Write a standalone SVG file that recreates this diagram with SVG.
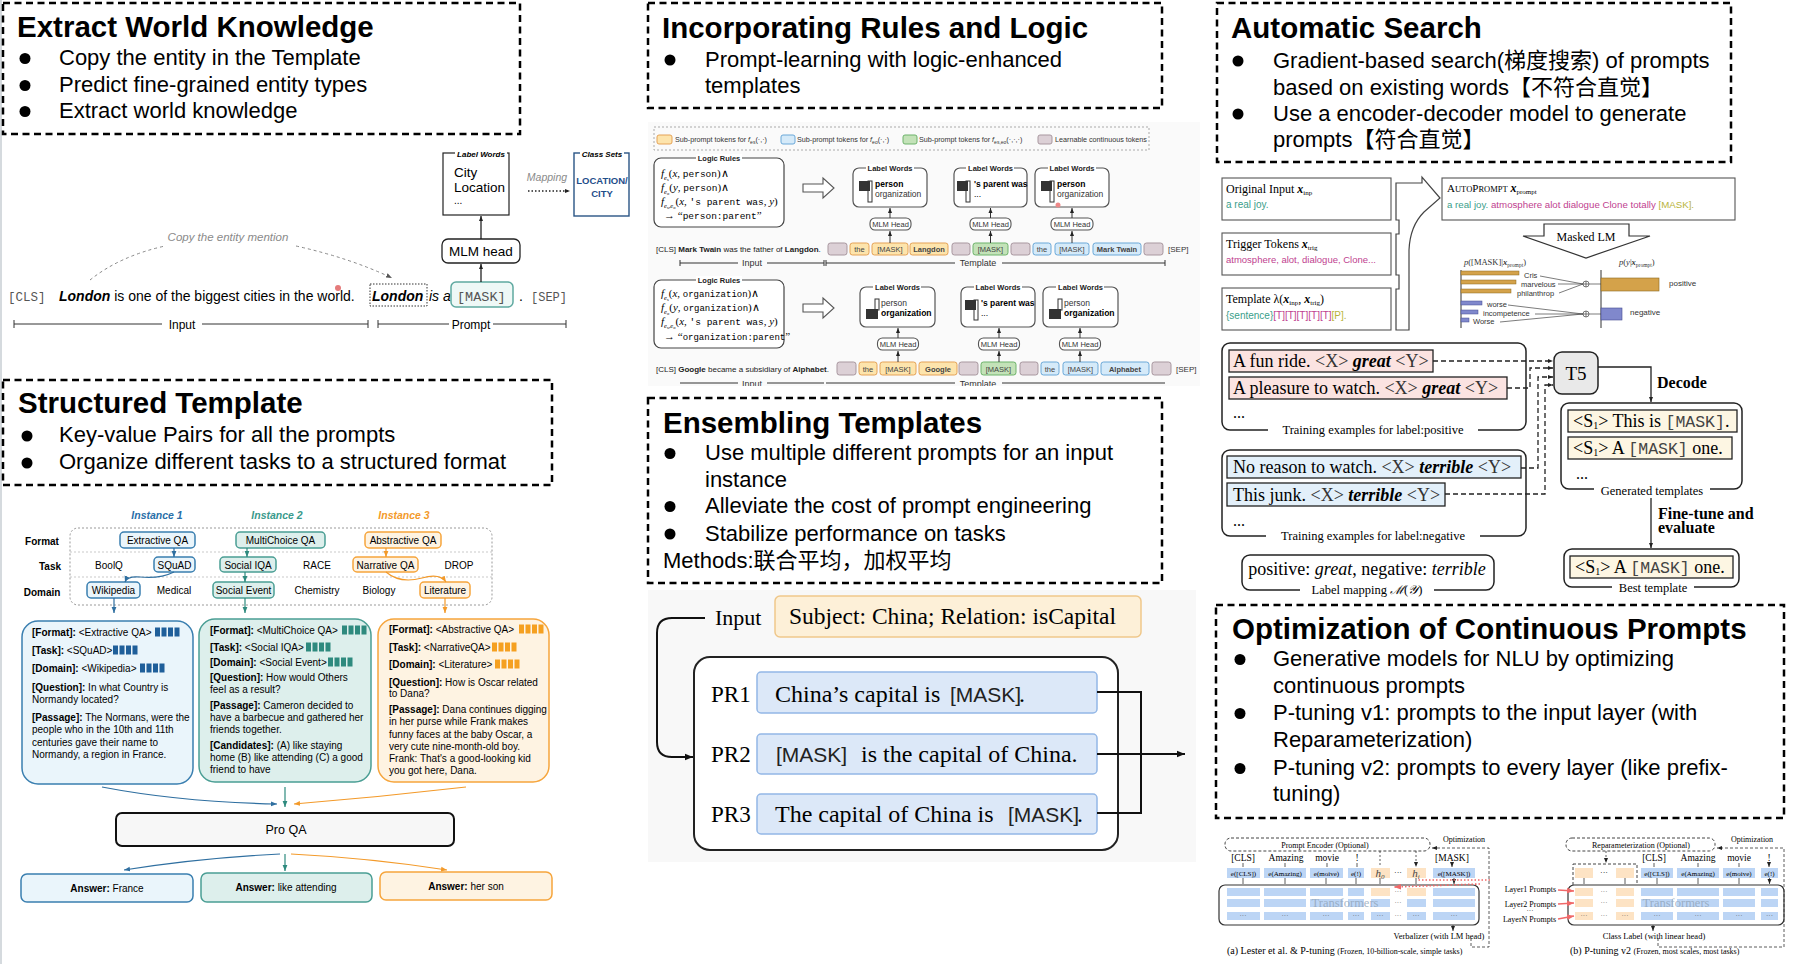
<svg xmlns="http://www.w3.org/2000/svg" width="1798" height="964" viewBox="0 0 1798 964">
<defs>
<style>
text{font-family:"Liberation Sans",Arial,sans-serif}
.sf,.sf text{font-family:"Liberation Serif","Times New Roman",serif}
.cjk{font-family:"Liberation Sans","Noto Sans CJK SC",sans-serif}
.mono{font-family:"Liberation Mono","Courier New",monospace}
.sans{font-family:"Liberation Sans",Arial,sans-serif}
.dbox{fill:none;stroke:#000;stroke-width:2.5;stroke-dasharray:7 4.5}
.title{font-size:29.5px;font-weight:bold}
.bul{font-size:22px}
.b{font-weight:bold}
.i{font-style:italic}
.c{text-anchor:middle}
.r{text-anchor:end}
.ln{fill:none;stroke:#111;stroke-width:1.2}
.tg{fill:#dcd0d6;stroke:#a8979f;stroke-width:1}
.to{fill:#fde4ac;stroke:#e5a256;stroke-width:1}
.tgr{fill:#c3e2b8;stroke:#6db36a;stroke-width:1}
.tb{fill:#d5eaf9;stroke:#6aa8d8;stroke-width:1}
.tk{font-size:7.5px;text-anchor:middle;fill:#444}
.lw{fill:#fff;stroke:#555;stroke-width:1.2}
.lwt{font-size:7.5px;font-weight:bold;text-anchor:middle;fill:#222}
.mh{fill:#fff;stroke:#555;stroke-width:1.1}
.mht{font-size:7.5px;text-anchor:middle;fill:#333}
.ap{fill:#fff;stroke:#555;stroke-width:1.1}
.frm{fill:#fff;stroke:#222;stroke-width:1.5}
.flab{font-size:12.5px;text-anchor:middle}
.bbx{fill:#eaf5fb;stroke:#3a7fb0;stroke-width:1.5}
.tbx{fill:#ddefec;stroke:#4a9e94;stroke-width:1.5}
.obx{fill:#fef3e2;stroke:#f6a53c;stroke-width:1.5}
.st{font-size:10px}
.emb{fill:#bcd5f5}
.emo{fill:#fde3c4}
.et{font-size:7px;text-anchor:middle}
</style>
<marker id="ah" viewBox="0 0 10 10" refX="10" refY="5" markerWidth="8" markerHeight="8" markerUnits="userSpaceOnUse" orient="auto"><path d="M0,1 L10,5 L0,9 z" fill="#111"/></marker>
<marker id="ahs" viewBox="0 0 10 10" refX="10" refY="5" markerWidth="5" markerHeight="5" markerUnits="userSpaceOnUse" orient="auto"><path d="M0,1 L10,5 L0,9 z" fill="#222"/></marker>
<marker id="ahg" viewBox="0 0 10 10" refX="10" refY="5" markerWidth="6" markerHeight="6" markerUnits="userSpaceOnUse" orient="auto"><path d="M0,1 L10,5 L0,9 z" fill="#555"/></marker>
<marker id="ahb" viewBox="0 0 10 10" refX="10" refY="5" markerWidth="6" markerHeight="6" markerUnits="userSpaceOnUse" orient="auto"><path d="M0,1 L10,5 L0,9 z" fill="#2f6fa0"/></marker>
<marker id="aht" viewBox="0 0 10 10" refX="10" refY="5" markerWidth="6" markerHeight="6" markerUnits="userSpaceOnUse" orient="auto"><path d="M0,1 L10,5 L0,9 z" fill="#2e8a7e"/></marker>
<marker id="aho" viewBox="0 0 10 10" refX="10" refY="5" markerWidth="6" markerHeight="6" markerUnits="userSpaceOnUse" orient="auto"><path d="M0,1 L10,5 L0,9 z" fill="#f39a2a"/></marker>
<marker id="ahr" viewBox="0 0 10 10" refX="10" refY="5" markerWidth="7" markerHeight="7" markerUnits="userSpaceOnUse" orient="auto"><path d="M0,1 L10,5 L0,9 z" fill="#f06868"/></marker>
<clipPath id="clipLogic"><rect x="640" y="118" width="570" height="268"/></clipPath>
</defs>
<rect x="0" y="0" width="1798" height="964" fill="#fff"/>
<rect x="0" y="0" width="2" height="964" fill="#d5dade"/>

<!-- ============ TEXT PANELS ============ -->
<g id="panel-extract">
<rect x="3" y="3" width="517" height="131" class="dbox"/>
<text x="17" y="37" class="title">Extract World Knowledge</text>
<circle cx="25" cy="58.5" r="5.5"/><text x="59" y="65" class="bul">Copy the entity in the Template</text>
<circle cx="25" cy="85.5" r="5.5"/><text x="59" y="92" class="bul">Predict fine-grained entity types</text>
<circle cx="25" cy="111.5" r="5.5"/><text x="59" y="118" class="bul">Extract world knowledge</text>
</g>

<g id="panel-rules">
<rect x="648" y="3" width="514" height="105" class="dbox"/>
<text x="662" y="38" class="title">Incorporating Rules and Logic</text>
<circle cx="670" cy="60" r="5.5"/><text x="705" y="67" class="bul">Prompt-learning with logic-enhanced</text>
<text x="705" y="93" class="bul">templates</text>
</g>

<g id="panel-autosearch">
<rect x="1217" y="3" width="514" height="159" class="dbox"/>
<text x="1231" y="38" class="title">Automatic Search</text>
<circle cx="1238" cy="61" r="5.5"/><text x="1273" y="68" class="bul cjk">Gradient-based search(梯度搜索) of prompts</text>
<text x="1273" y="95" class="bul cjk">based on existing words【不符合直觉】</text>
<circle cx="1238" cy="114" r="5.5"/><text x="1273" y="121" class="bul cjk">Use a encoder-decoder model to generate</text>
<text x="1273" y="147" class="bul cjk">prompts【符合直觉】</text>
</g>

<g id="panel-structured">
<rect x="3" y="380" width="549" height="105" class="dbox"/>
<text x="18" y="413" class="title">Structured Template</text>
<circle cx="27" cy="436" r="5.5"/><text x="59" y="442" class="bul">Key-value Pairs for all the prompts</text>
<circle cx="27" cy="463" r="5.5"/><text x="59" y="469" class="bul">Organize different tasks to a structured format</text>
</g>

<g id="panel-ensembling">
<rect x="648" y="398" width="514" height="185" class="dbox"/>
<text x="663" y="433" class="title">Ensembling Templates</text>
<circle cx="670" cy="453.5" r="5.5"/><text x="705" y="460" class="bul">Use multiple different prompts for an input</text>
<text x="705" y="487" class="bul">instance</text>
<circle cx="670" cy="506.5" r="5.5"/><text x="705" y="513" class="bul">Alleviate the cost of prompt engineering</text>
<circle cx="670" cy="534" r="5.5"/><text x="705" y="541" class="bul">Stabilize performance on tasks</text>
<text x="663" y="568" class="bul cjk">Methods:联合平均，加权平均</text>
</g>

<g id="panel-continuous">
<rect x="1216" y="605" width="568" height="213" class="dbox"/>
<text x="1232" y="639" class="title">Optimization of Continuous Prompts</text>
<circle cx="1240" cy="659.5" r="5.5"/><text x="1273" y="666" class="bul">Generative models for NLU by optimizing</text>
<text x="1273" y="693" class="bul">continuous prompts</text>
<circle cx="1240" cy="713.5" r="5.5"/><text x="1273" y="720" class="bul">P-tuning v1: prompts to the input layer (with</text>
<text x="1273" y="747" class="bul">Reparameterization)</text>
<circle cx="1240" cy="768.5" r="5.5"/><text x="1273" y="775" class="bul">P-tuning v2: prompts to every layer (like prefix-</text>
<text x="1273" y="801" class="bul">tuning)</text>
</g>

<!-- ============ FIGURE 1: world knowledge ============ -->
<g id="fig-world-knowledge">
<g id="node-label-words">
<rect x="443" y="153" width="66" height="62" fill="#fff" stroke="#222" stroke-width="1.2"/>
<rect x="455" y="149" width="52" height="9" fill="#fff"/>
<text x="481" y="156.5" class="c b i" font-size="8">Label Words</text>
<text x="454" y="177" font-size="13.5">City</text>
<text x="454" y="192" font-size="13.5">Location</text>
<text x="454" y="204" font-size="10">...</text>
</g>
<g id="node-class-sets">
<rect x="574" y="153" width="55" height="63" fill="#fff" stroke="#2a5585" stroke-width="1.4"/>
<rect x="580" y="149" width="44" height="9" fill="#fff"/>
<text x="602" y="156.5" class="c b i" font-size="8">Class Sets</text>
<text x="602" y="184" class="c b" font-size="9.5" fill="#1f4e8a">LOCATION/</text>
<text x="602" y="197" class="c b" font-size="9.5" fill="#1f4e8a">CITY</text>
</g>
<text x="547" y="181" class="c i" font-size="10.5" fill="#8a8a8a">Mapping</text>
<g id="node-mlm-head">
<rect x="442" y="239" width="78" height="24" rx="6" fill="#fff" stroke="#222" stroke-width="1.3"/>
<text x="481" y="256" class="c" font-size="13.5">MLM head</text>
</g>
<g id="node-sentence">
<text x="8" y="301" class="mono" font-size="12.5" fill="#555">[CLS]</text>
<text x="59" y="301" font-size="14"><tspan class="b i">London</tspan> is one of the biggest cities in the world.</text>
<circle cx="338" cy="288" r="3" fill="#e57b7b"/>
<rect x="370" y="284" width="57" height="22" fill="none" stroke="#333" stroke-width="1" stroke-dasharray="1.5 1.5"/>
<text x="372" y="301" font-size="14" class="b i">London</text>
<text x="429" y="301" font-size="14" class="i">is a</text>
<rect x="451" y="282" width="62" height="25" rx="5" fill="#eef8f6" stroke="#5fa9a0" stroke-width="1.5"/>
<text x="457" y="301" class="mono" font-size="13.5" fill="#555">[MASK]</text>
<text x="519" y="301" font-size="14">.</text>
<text x="531" y="301" class="mono" font-size="12" fill="#555">[SEP]</text>
</g>
<text x="228" y="241" class="c i" font-size="11.5" fill="#8a8a8a">Copy the entity mention</text>
<g id="connectors-world">
<line x1="481" y1="239" x2="481" y2="216" class="ln" marker-end="url(#ahs)"/>
<line x1="481" y1="282" x2="481" y2="264" class="ln" marker-end="url(#ahs)"/>
<line x1="528" y1="191" x2="570" y2="191" stroke="#222" stroke-width="1.3" stroke-dasharray="1.5 2" marker-end="url(#ahs)"/>
<path d="M90,280 Q120,256 165,246" fill="none" stroke="#888" stroke-width="1" stroke-dasharray="3 3"/>
<path d="M296,246 Q350,258 392,278" fill="none" stroke="#888" stroke-width="1" stroke-dasharray="3 3" marker-end="url(#ahg)"/>
<path d="M14,324 L162,324 M202,324 L368,324 M14,320 L14,328 M368,320 L368,328 M378,324 L449,324 M493,324 L566,324 M378,320 L378,328 M566,320 L566,328" stroke="#333" stroke-width="1"/>
</g>
<text x="182" y="328.5" class="c" font-size="12">Input</text>
<text x="471" y="328.5" class="c" font-size="12">Prompt</text>
</g>

<!-- ============ FIGURE 2: logic rules ============ -->
<g id="fig-logic" clip-path="url(#clipLogic)">
<rect x="648" y="122" width="552" height="266" fill="#fafafa"/>
<g id="node-legend">
<rect x="654" y="127" width="495" height="23" fill="none" stroke="#aaa" stroke-width="1" stroke-dasharray="2 2"/>
<rect x="657" y="135" width="15" height="9" rx="2" class="to"/>
<text x="675" y="142" font-size="7.2" fill="#333">Sub-prompt tokens for <tspan class="i">f</tspan><tspan font-size="5" dy="2">es</tspan><tspan dy="-2">(·,·)</tspan></text>
<rect x="781" y="135" width="14" height="9" rx="2" class="tb"/>
<text x="797" y="142" font-size="7.2" fill="#333">Sub-prompt tokens for <tspan class="i">f</tspan><tspan font-size="5" dy="2">eo</tspan><tspan dy="-2">(·,·)</tspan></text>
<rect x="903" y="135" width="14" height="9" rx="2" class="tgr"/>
<text x="919" y="142" font-size="7.2" fill="#333">Sub-prompt tokens for <tspan class="i">f</tspan><tspan font-size="5" dy="2">es,eo</tspan><tspan dy="-2">(·,·,·)</tspan></text>
<rect x="1038" y="135" width="14" height="9" rx="2" class="tg"/>
<text x="1055" y="142" font-size="7.2" fill="#333">Learnable continuous tokens</text>
</g>

<g id="node-rules-1">
<rect x="654" y="158" width="130" height="69" rx="7" fill="#fff" stroke="#444" stroke-width="1.2"/>
<rect x="696" y="154" width="46" height="8" fill="#fff"/>
<text x="719" y="161" class="lwt">Logic Rules</text>
<g class="sf">
<text x="661" y="177" font-size="11"><tspan class="i">f</tspan><tspan font-size="6.5" dy="2.5" class="i">e</tspan><tspan font-size="4.5" dy="1">s</tspan><tspan dy="-3.5">(</tspan><tspan class="i">x</tspan>, <tspan class="mono" font-size="9.5">person</tspan>)∧</text>
<text x="661" y="191" font-size="11"><tspan class="i">f</tspan><tspan font-size="6.5" dy="2.5" class="i">e</tspan><tspan font-size="4.5" dy="1">o</tspan><tspan dy="-3.5">(</tspan><tspan class="i">y</tspan>, <tspan class="mono" font-size="9.5">person</tspan>)∧</text>
<text x="661" y="205" font-size="11"><tspan class="i">f</tspan><tspan font-size="6.5" dy="2.5" class="i">e</tspan><tspan font-size="4.5" dy="1">s</tspan><tspan font-size="6.5" dy="-1" class="i">,e</tspan><tspan font-size="4.5" dy="1">o</tspan><tspan dy="-3.5">(</tspan><tspan class="i">x</tspan>, <tspan class="mono" font-size="9.5">'s parent was</tspan>, <tspan class="i">y</tspan>)</text>
<text x="664" y="219" font-size="11">→ “<tspan class="mono" font-size="9.5">person:parent</tspan>”</text>
</g>
</g>
<path d="M803,184 L823,184 L823,178 L834,188 L823,198 L823,192 L803,192 Z" fill="#fff" stroke="#555" stroke-width="1.1"/>

<g id="node-lw-1a">
<rect x="853" y="168" width="74" height="39" rx="6" class="lw"/>
<rect x="866" y="164" width="48" height="8" fill="#fff"/>
<text x="890" y="171" class="lwt">Label Words</text>
<rect x="859" y="181" width="11" height="10" fill="#333"/><rect x="868" y="181" width="4" height="21" fill="none" stroke="#333" stroke-width="1"/>
<text x="875" y="187" font-size="8.5" class="b">person</text>
<text x="875" y="197" font-size="8.5" fill="#333">organization</text>
</g>
<g id="node-lw-1b">
<rect x="954" y="168" width="73" height="39" rx="6" class="lw"/>
<rect x="966" y="164" width="48" height="8" fill="#fff"/>
<text x="990.5" y="171" class="lwt">Label Words</text>
<rect x="957" y="181" width="11" height="10" fill="#333"/><rect x="966" y="181" width="4" height="21" fill="none" stroke="#333" stroke-width="1"/>
<text x="974" y="187" font-size="8.5" class="b">'s parent was</text>
<text x="974" y="197" font-size="8.5">...</text>
</g>
<g id="node-lw-1c">
<rect x="1035" y="168" width="74" height="39" rx="6" class="lw"/>
<rect x="1048" y="164" width="48" height="8" fill="#fff"/>
<text x="1072" y="171" class="lwt">Label Words</text>
<rect x="1041" y="181" width="11" height="10" fill="#333"/><rect x="1050" y="181" width="4" height="21" fill="none" stroke="#333" stroke-width="1"/>
<text x="1057" y="187" font-size="8.5" class="b">person</text>
<text x="1057" y="197" font-size="8.5" fill="#333">organization</text>
<circle cx="1058" cy="205" r="2.5" fill="#e88"/>
</g>
<g id="node-mlm-1">
<rect x="870" y="218" width="41" height="12" rx="5" class="mh"/><text x="890.5" y="227" class="mht">MLM Head</text>
<rect x="970" y="218" width="41" height="12" rx="5" class="mh"/><text x="990.5" y="227" class="mht">MLM Head</text>
<rect x="1051" y="218" width="42" height="12" rx="5" class="mh"/><text x="1072" y="227" class="mht">MLM Head</text>
</g>
<g id="node-tokens-1">
<text x="656" y="251.5" font-size="8" fill="#222">[CLS] <tspan class="b">Mark Twain</tspan> was the father of <tspan class="b">Langdon</tspan>.</text>
<rect x="828" y="243" width="19" height="12" rx="2.5" class="tg"/>
<rect x="850" y="243" width="19" height="12" rx="2.5" class="to"/><text x="859.5" y="251.5" class="tk">the</text>
<rect x="872" y="243" width="36" height="12" rx="2.5" class="to"/><text x="890" y="251.5" class="tk">[MASK]</text>
<rect x="910" y="243" width="38" height="12" rx="2.5" class="to"/><text x="929" y="251.5" class="tk b" fill="#222">Langdon</text>
<rect x="952" y="243" width="18" height="12" rx="2.5" class="tg"/>
<rect x="973" y="243" width="35" height="12" rx="2.5" class="tgr"/><text x="990.5" y="251.5" class="tk">[MASK]</text>
<rect x="1011" y="243" width="19" height="12" rx="2.5" class="tg"/>
<rect x="1033" y="243" width="18" height="12" rx="2.5" class="tb"/><text x="1042" y="251.5" class="tk">the</text>
<rect x="1055" y="243" width="34" height="12" rx="2.5" class="tb"/><text x="1072" y="251.5" class="tk">[MASK]</text>
<rect x="1093" y="243" width="48" height="12" rx="2.5" class="tb"/><text x="1117" y="251.5" class="tk b">Mark Twain</text>
<rect x="1144" y="243" width="19" height="12" rx="2.5" class="tg"/>
<text x="1168" y="252" font-size="8" fill="#333">[SEP]</text>
</g>
<text x="752" y="266" class="c" font-size="9" fill="#333">Input</text>
<text x="978" y="266" class="c" font-size="9" fill="#333">Template</text>

<g id="node-rules-2">
<rect x="654" y="280" width="130" height="68" rx="7" fill="#fff" stroke="#444" stroke-width="1.2"/>
<rect x="696" y="276" width="46" height="8" fill="#fff"/>
<text x="719" y="283" class="lwt">Logic Rules</text>
<g class="sf">
<text x="661" y="297" font-size="11"><tspan class="i">f</tspan><tspan font-size="6.5" dy="2.5" class="i">e</tspan><tspan font-size="4.5" dy="1">s</tspan><tspan dy="-3.5">(</tspan><tspan class="i">x</tspan>, <tspan class="mono" font-size="9">organization</tspan>)∧</text>
<text x="661" y="311" font-size="11"><tspan class="i">f</tspan><tspan font-size="6.5" dy="2.5" class="i">e</tspan><tspan font-size="4.5" dy="1">o</tspan><tspan dy="-3.5">(</tspan><tspan class="i">y</tspan>, <tspan class="mono" font-size="9">organization</tspan>)∧</text>
<text x="661" y="325" font-size="11"><tspan class="i">f</tspan><tspan font-size="6.5" dy="2.5" class="i">e</tspan><tspan font-size="4.5" dy="1">s</tspan><tspan font-size="6.5" dy="-1" class="i">,e</tspan><tspan font-size="4.5" dy="1">o</tspan><tspan dy="-3.5">(</tspan><tspan class="i">x</tspan>, <tspan class="mono" font-size="9.5">'s parent was</tspan>, <tspan class="i">y</tspan>)</text>
<text x="664" y="340" font-size="11">→ “<tspan class="mono" font-size="9">organization:parent</tspan>”</text>
</g>
</g>
<path d="M803,304 L823,304 L823,298 L834,308 L823,318 L823,312 L803,312 Z" fill="#fff" stroke="#555" stroke-width="1.1"/>

<g id="node-lw-2a">
<rect x="860" y="287" width="75" height="40" rx="6" class="lw"/>
<rect x="873" y="283" width="48" height="8" fill="#fff"/>
<text x="897.5" y="290" class="lwt">Label Words</text>
<rect x="875" y="299" width="4" height="11" fill="none" stroke="#333" stroke-width="1"/><rect x="866" y="309" width="12" height="10" fill="#333"/>
<text x="881" y="306" font-size="8.5" fill="#333">person</text>
<text x="881" y="316" font-size="8.5" class="b">organization</text>
</g>
<g id="node-lw-2b">
<rect x="961" y="287" width="74" height="40" rx="6" class="lw"/>
<rect x="974" y="283" width="48" height="8" fill="#fff"/>
<text x="998" y="290" class="lwt">Label Words</text>
<rect x="965" y="300" width="11" height="10" fill="#333"/><rect x="974" y="300" width="4" height="20" fill="none" stroke="#333" stroke-width="1"/>
<text x="981" y="306" font-size="8.5" class="b">'s parent was</text>
<text x="981" y="316" font-size="8.5">...</text>
</g>
<g id="node-lw-2c">
<rect x="1043" y="287" width="75" height="40" rx="6" class="lw"/>
<rect x="1056" y="283" width="48" height="8" fill="#fff"/>
<text x="1080.5" y="290" class="lwt">Label Words</text>
<rect x="1058" y="299" width="4" height="11" fill="none" stroke="#333" stroke-width="1"/><rect x="1049" y="309" width="12" height="10" fill="#333"/>
<text x="1064" y="306" font-size="8.5" fill="#333">person</text>
<text x="1064" y="316" font-size="8.5" class="b">organization</text>
</g>
<g id="node-mlm-2">
<rect x="877.5" y="338" width="41" height="12" rx="5" class="mh"/><text x="898" y="347" class="mht">MLM Head</text>
<rect x="978.5" y="338" width="41" height="12" rx="5" class="mh"/><text x="999" y="347" class="mht">MLM Head</text>
<rect x="1059.5" y="338" width="41" height="12" rx="5" class="mh"/><text x="1080" y="347" class="mht">MLM Head</text>
</g>
<g id="node-tokens-2">
<text x="656" y="371.5" font-size="8" fill="#222">[CLS] <tspan class="b">Google</tspan> became a subsidiary of <tspan class="b">Alphabet</tspan>.</text>
<rect x="837" y="362" width="19" height="13" rx="2.5" class="tg"/>
<rect x="859" y="362" width="18" height="13" rx="2.5" class="to"/><text x="868" y="371.5" class="tk">the</text>
<rect x="880" y="362" width="36" height="13" rx="2.5" class="to"/><text x="898" y="371.5" class="tk">[MASK]</text>
<rect x="919" y="362" width="38" height="13" rx="2.5" class="to"/><text x="938" y="371.5" class="tk b" fill="#222">Google</text>
<rect x="959" y="362" width="19" height="13" rx="2.5" class="tg"/>
<rect x="981" y="362" width="35" height="13" rx="2.5" class="tgr"/><text x="998.5" y="371.5" class="tk">[MASK]</text>
<rect x="1020" y="362" width="18" height="13" rx="2.5" class="tg"/>
<rect x="1041" y="362" width="18" height="13" rx="2.5" class="tb"/><text x="1050" y="371.5" class="tk">the</text>
<rect x="1063" y="362" width="35" height="13" rx="2.5" class="tb"/><text x="1080.5" y="371.5" class="tk">[MASK]</text>
<rect x="1101" y="362" width="48" height="13" rx="2.5" class="tb"/><text x="1125" y="371.5" class="tk b" fill="#222">Alphabet</text>
<rect x="1152" y="362" width="19" height="13" rx="2.5" class="tg"/>
<text x="1176" y="372" font-size="8" fill="#333">[SEP]</text>
</g>
<text x="752" y="387" class="c" font-size="9" fill="#333">Input</text>
<text x="978" y="387" class="c" font-size="9" fill="#333">Template</text>

<g id="connectors-logic" stroke="#333" stroke-width="1">
<path d="M680,263 L738,263 M767,263 L824,263 M680,260 L680,266 M824,260 L824,266 M826,263 L955,263 M1002,263 L1165,263 M826,260 L826,266 M1165,260 L1165,266"/>
<path d="M680,383 L738,383 M767,383 L824,383 M826,383 L955,383 M1002,383 L1165,383"/>
<line x1="890" y1="243" x2="890" y2="231" marker-end="url(#ahs)"/>
<line x1="890" y1="218" x2="890" y2="208" marker-end="url(#ahs)"/>
<line x1="990.5" y1="243" x2="990.5" y2="231" marker-end="url(#ahs)"/>
<line x1="990.5" y1="218" x2="990.5" y2="208" marker-end="url(#ahs)"/>
<line x1="1072" y1="243" x2="1072" y2="231" marker-end="url(#ahs)"/>
<line x1="1072" y1="218" x2="1072" y2="208" marker-end="url(#ahs)"/>
<line x1="898" y1="362" x2="898" y2="351" marker-end="url(#ahs)"/>
<line x1="898" y1="338" x2="898" y2="328" marker-end="url(#ahs)"/>
<line x1="999" y1="362" x2="999" y2="351" marker-end="url(#ahs)"/>
<line x1="999" y1="338" x2="999" y2="328" marker-end="url(#ahs)"/>
<line x1="1080" y1="362" x2="1080" y2="351" marker-end="url(#ahs)"/>
<line x1="1080" y1="338" x2="1080" y2="328" marker-end="url(#ahs)"/>
</g>
</g>

<!-- ============ FIGURE 3: AutoPrompt ============ -->
<g id="fig-autoprompt">
<g id="node-original-input">
<rect x="1222" y="178" width="169" height="42" class="ap"/>
<text x="1226" y="193" class="sf" font-size="12">Original Input <tspan class="b i">x</tspan><tspan font-size="7" dy="2">inp</tspan></text>
<text x="1226" y="208" font-size="10" fill="#3a9e8a">a real joy.</text>
</g>
<g id="node-trigger">
<rect x="1222" y="233" width="169" height="42" class="ap"/>
<text x="1226" y="248" class="sf" font-size="12">Trigger Tokens <tspan class="b i">x</tspan><tspan font-size="7" dy="2">trig</tspan></text>
<text x="1226" y="263" font-size="9.5" fill="#c0418f">atmosphere, alot, dialogue, Clone...</text>
</g>
<g id="node-template">
<rect x="1222" y="288" width="169" height="42" class="ap"/>
<text x="1226" y="303" class="sf" font-size="12">Template  λ(<tspan class="b i">x</tspan><tspan font-size="7" dy="2">inp</tspan><tspan dy="-2">, </tspan><tspan class="b i">x</tspan><tspan font-size="7" dy="2">trig</tspan><tspan dy="-2">)</tspan></text>
<text x="1226" y="319" font-size="10"><tspan fill="#3a9e8a">{sentence}</tspan><tspan fill="#c0418f">[T][T][T][T][T]</tspan><tspan fill="#b8b43a">[P].</tspan></text>
</g>
<path id="node-brace-arrow" d="M1396,183 L1422,183 L1422,177 L1440,198 L1424,212 Q1410,226 1409,250 L1409,330 L1396,330 L1396,289 L1399,289 L1399,275 L1396,275 L1396,234 L1399,234 L1399,220 L1396,220 Z" fill="#fff" stroke="#444" stroke-width="1.2"/>
<g id="node-autoprompt">
<rect x="1442" y="178" width="293" height="42" class="ap"/>
<text x="1447" y="192" class="sf" font-size="11">A<tspan font-size="8.5">UTO</tspan>P<tspan font-size="8.5">ROMPT</tspan>  <tspan class="b i" font-size="12">x</tspan><tspan font-size="7" dy="2">prompt</tspan></text>
<text x="1447" y="208" font-size="9.7"><tspan fill="#3a9e8a">a real joy.</tspan> <tspan fill="#c0418f">atmosphere alot dialogue Clone totally</tspan> <tspan fill="#b8b43a">[MASK].</tspan></text>
</g>
<g id="node-masked-lm">
<polygon points="1544,224 1629,224 1629,236 1650,236 1586,258 1523,236 1544,236" fill="#fff" stroke="#333" stroke-width="1.2"/>
<text x="1586" y="241" class="sf c" font-size="12">Masked LM</text>
</g>
<g id="node-chart">
<text x="1464" y="265" class="sf" font-size="8.5" fill="#333"><tspan class="i">p</tspan>([MASK]|<tspan class="b i">x</tspan><tspan font-size="5.5" dy="1.5">prompt</tspan><tspan dy="-1.5">)</tspan></text>
<text x="1619" y="265" class="sf" font-size="8.5" fill="#333"><tspan class="i">p</tspan>(<tspan class="i">y</tspan>|<tspan class="b i">x</tspan><tspan font-size="5.5" dy="1.5">prompt</tspan><tspan dy="-1.5">)</tspan></text>
<line x1="1461" y1="270" x2="1461" y2="328" stroke="#333" stroke-width="1"/>
<rect x="1461" y="271" width="58" height="4" fill="#d4a24a" stroke="#8a6a20" stroke-width="0.5"/>
<rect x="1461" y="280" width="55" height="4" fill="#d4a24a" stroke="#8a6a20" stroke-width="0.5"/>
<rect x="1461" y="289" width="50" height="4" fill="#d4a24a" stroke="#8a6a20" stroke-width="0.5"/>
<rect x="1461" y="301" width="21" height="4" fill="#8088cc" stroke="#444c90" stroke-width="0.5"/>
<rect x="1461" y="310" width="17" height="4" fill="#8088cc" stroke="#444c90" stroke-width="0.5"/>
<rect x="1461" y="318" width="8" height="4" fill="#8088cc" stroke="#444c90" stroke-width="0.5"/>
<text x="1524" y="278" font-size="7.5" fill="#333">Cris</text>
<text x="1521" y="287" font-size="7.5" fill="#333">marvelous</text>
<text x="1517" y="296" font-size="7.5" fill="#333">philanthrop</text>
<text x="1487" y="307" font-size="7.5" fill="#333">worse</text>
<text x="1483" y="316" font-size="7.5" fill="#333">incompetence</text>
<text x="1473" y="324" font-size="7.5" fill="#333">Worse</text>
<g stroke="#444" stroke-width="0.7" fill="none">
<path d="M1540,276 L1583,284 M1558,284 L1583,284 M1559,293 L1583,284 M1589,284 L1601,284"/>
<path d="M1508,305 L1583,314 M1535,314 L1583,314 M1500,322 L1583,314 M1589,314 L1601,314"/>
<circle cx="1586" cy="284" r="3" fill="#fff"/><path d="M1583,284 h6 M1586,281 v6"/>
<circle cx="1586" cy="314" r="3" fill="#fff"/><path d="M1583,314 h6 M1586,311 v6"/>
</g>
<line x1="1601" y1="270" x2="1601" y2="328" stroke="#333" stroke-width="1"/>
<rect x="1601" y="278" width="58" height="13" fill="#d4a24a" stroke="#8a6a20" stroke-width="0.6"/>
<rect x="1601" y="308" width="21" height="12" fill="#8088cc" stroke="#444c90" stroke-width="0.6"/>
<text x="1669" y="286" font-size="8" fill="#333">positive</text>
<text x="1630" y="315" font-size="8" fill="#333">negative</text>
</g>
</g>

<!-- ============ FIGURE 4: LM-BFF ============ -->
<g id="fig-lmbff" class="sf">
<g id="node-positive-examples">
<rect x="1222" y="343" width="304" height="87" rx="8" class="frm"/>
<rect x="1268" y="425" width="210" height="10" fill="#fff"/>
<text x="1373" y="434" class="flab">Training examples for label:positive</text>
<rect x="1229" y="350" width="204" height="22" fill="#fbe3e1" stroke="#222" stroke-width="1.3"/>
<text x="1233" y="367" font-size="18">A fun ride. <tspan fill="#333">&lt;X&gt;</tspan> <tspan class="b i">great</tspan> <tspan fill="#333">&lt;Y&gt;</tspan></text>
<rect x="1229" y="377" width="278" height="22" fill="#fbe3e1" stroke="#222" stroke-width="1.3"/>
<text x="1233" y="394" font-size="18">A pleasure to watch. <tspan fill="#333">&lt;X&gt;</tspan> <tspan class="b i">great</tspan> <tspan fill="#333">&lt;Y&gt;</tspan></text>
<text x="1233" y="418" font-size="16">...</text>
</g>
<g id="node-negative-examples">
<rect x="1222" y="450" width="304" height="86" rx="8" class="frm"/>
<rect x="1266" y="530" width="214" height="10" fill="#fff"/>
<text x="1373" y="539.5" class="flab">Training examples for label:negative</text>
<rect x="1227" y="456" width="294" height="22" fill="#e3f0fa" stroke="#222" stroke-width="1.3"/>
<text x="1233" y="473" font-size="18">No reason to watch. <tspan fill="#333">&lt;X&gt;</tspan> <tspan class="b i">terrible</tspan> <tspan fill="#333">&lt;Y&gt;</tspan></text>
<rect x="1227" y="483" width="218" height="23" fill="#e3f0fa" stroke="#222" stroke-width="1.3"/>
<text x="1233" y="500.5" font-size="18">This junk. <tspan fill="#333">&lt;X&gt;</tspan> <tspan class="b i">terrible</tspan> <tspan fill="#333">&lt;Y&gt;</tspan></text>
<text x="1233" y="526" font-size="16">...</text>
</g>
<g id="node-label-mapping">
<rect x="1242" y="555" width="252" height="35" rx="8" class="frm"/>
<rect x="1300" y="585" width="134" height="10" fill="#fff"/>
<text x="1367" y="593.5" class="flab">Label mapping <tspan class="i">ℳ</tspan>(<tspan class="i">𝒴</tspan>)</text>
<text x="1367" y="575" class="c" font-size="18">positive: <tspan class="i">great</tspan>, negative: <tspan class="i">terrible</tspan></text>
</g>
<g id="node-t5">
<rect x="1554" y="352" width="44" height="42" rx="8" fill="#e9e9e9" stroke="#222" stroke-width="1.5"/>
<text x="1576" y="380" class="c" font-size="19">T5</text>
</g>
<text x="1657" y="388" font-size="16" class="b">Decode</text>
<g id="node-generated">
<rect x="1561" y="403" width="181" height="86" rx="8" class="frm"/>
<rect x="1594" y="485" width="116" height="10" fill="#fff"/>
<text x="1652" y="494.5" class="flab">Generated templates</text>
<rect x="1568" y="410" width="169" height="22" fill="#fdf6e3" stroke="#222" stroke-width="1.3"/>
<text x="1573" y="427" font-size="18">&lt;S<tspan font-size="10" dy="2">1</tspan><tspan dy="-2">&gt; This is </tspan><tspan class="mono" font-size="16.5" fill="#444">[MASK]</tspan>.</text>
<rect x="1568" y="437" width="164" height="22" fill="#fdf6e3" stroke="#222" stroke-width="1.3"/>
<text x="1573" y="454" font-size="18">&lt;S<tspan font-size="10" dy="2">1</tspan><tspan dy="-2">&gt; A </tspan><tspan class="mono" font-size="16.5" fill="#444">[MASK]</tspan> one.</text>
<text x="1576" y="479" font-size="16">...</text>
</g>
<text x="1658" y="519" font-size="16" class="b">Fine-tune and</text>
<text x="1658" y="533" font-size="16" class="b">evaluate</text>
<g id="node-best">
<rect x="1564" y="549" width="175" height="38" rx="8" class="frm"/>
<rect x="1612" y="583" width="82" height="10" fill="#fff"/>
<text x="1653" y="592" class="flab">Best template</text>
<rect x="1570" y="556" width="163" height="22" fill="#fdf6e3" stroke="#222" stroke-width="1.3"/>
<text x="1575" y="573" font-size="18">&lt;S<tspan font-size="10" dy="2">1</tspan><tspan dy="-2">&gt; A </tspan><tspan class="mono" font-size="16.5" fill="#444">[MASK]</tspan> one.</text>
</g>
<g id="connectors-lmbff" fill="none" stroke="#222" stroke-width="1.3">
<g stroke-dasharray="5 3">
<path d="M1433,361 L1553,361" marker-end="url(#ahs)"/>
<path d="M1507,388 L1530,388 L1530,368 L1553,368" marker-end="url(#ahs)"/>
<path d="M1521,468 L1538,468 L1538,377 L1553,377" marker-end="url(#ahs)"/>
<path d="M1445,494 L1545,494 L1545,385 L1553,385" marker-end="url(#ahs)"/>
</g>
<path d="M1598,367 L1651,367 L1651,402" marker-end="url(#ahs)"/>
<path d="M1651,498 L1651,548" marker-end="url(#ahs)"/>
</g>
</g>

<!-- ============ FIGURE 5: structured template ============ -->
<g id="fig-structured">
<text x="157" y="519" class="c b i" font-size="10.5" fill="#2a6fa8">Instance 1</text>
<text x="277" y="519" class="c b i" font-size="10.5" fill="#3a9a8c">Instance 2</text>
<text x="404" y="519" class="c b i" font-size="10.5" fill="#f39a2a">Instance 3</text>
<g id="node-taxonomy">
<rect x="70" y="528" width="422" height="77" rx="8" fill="none" stroke="#999" stroke-width="1" stroke-dasharray="2 2"/>
<path d="M70,552 L492,552 M70,577 L492,577" stroke="#bbb" stroke-width="0.8" stroke-dasharray="2 2"/>
<text x="42" y="545" class="c b" font-size="10">Format</text>
<text x="50" y="570" class="c b" font-size="10">Task</text>
<text x="42" y="596" class="c b" font-size="10">Domain</text>
<rect x="120" y="532" width="75" height="16" rx="4" class="bbx"/><text x="157.5" y="544" class="c st">Extractive QA</text>
<rect x="236" y="532" width="89" height="16" rx="4" class="tbx"/><text x="280.5" y="544" class="c st">MultiChoice QA</text>
<rect x="365" y="532" width="76" height="16" rx="4" class="obx"/><text x="403" y="544" class="c st">Abstractive QA</text>
<text x="109" y="569" class="c st">BoolQ</text>
<rect x="154" y="557" width="41" height="15" rx="4" class="bbx"/><text x="174.5" y="569" class="c st">SQuAD</text>
<rect x="220" y="557" width="56" height="15" rx="4" class="tbx"/><text x="248" y="569" class="c st">Social IQA</text>
<text x="317" y="569" class="c st">RACE</text>
<rect x="353" y="557" width="65" height="15" rx="4" class="obx"/><text x="385.5" y="569" class="c st">Narrative QA</text>
<text x="459" y="569" class="c st">DROP</text>
<rect x="87" y="582" width="53" height="16" rx="4" class="bbx"/><text x="113.5" y="594" class="c st">Wikipedia</text>
<text x="174" y="594" class="c st">Medical</text>
<rect x="213" y="582" width="61" height="16" rx="4" class="tbx"/><text x="243.5" y="594" class="c st">Social Event</text>
<text x="317" y="594" class="c st">Chemistry</text>
<text x="379" y="594" class="c st">Biology</text>
<rect x="420" y="582" width="50" height="16" rx="4" class="obx"/><text x="445" y="594" class="c st">Literature</text>
</g>
<g id="node-instance-1">
<rect x="22" y="621" width="171" height="163" rx="16" class="bbx"/>
<g class="st">
<text x="32" y="636"><tspan class="b">[Format]:</tspan> &lt;Extractive QA&gt;</text>
<text x="32" y="654"><tspan class="b">[Task]:</tspan> &lt;SQuAD&gt;</text>
<text x="32" y="672"><tspan class="b">[Domain]:</tspan> &lt;Wikipedia&gt;</text>
<text x="32" y="691"><tspan class="b">[Question]:</tspan> In what Country is</text>
<text x="32" y="703">Normandy located?</text>
<text x="32" y="721"><tspan class="b">[Passage]:</tspan> The Normans, were the</text>
<text x="32" y="733">people who in the 10th and 11th</text>
<text x="32" y="746">centuries gave their name to</text>
<text x="32" y="758">Normandy, a region in France.</text>
</g>
<g fill="#1f5f9a">
<rect x="155" y="627.5" width="5" height="9"/><rect x="161.5" y="627.5" width="5" height="9"/><rect x="168" y="627.5" width="5" height="9"/><rect x="174.5" y="627.5" width="5" height="9"/>
<rect x="113" y="645.5" width="5" height="9"/><rect x="119.5" y="645.5" width="5" height="9"/><rect x="126" y="645.5" width="5" height="9"/><rect x="132.5" y="645.5" width="5" height="9"/>
<rect x="140" y="663.5" width="5" height="9"/><rect x="146.5" y="663.5" width="5" height="9"/><rect x="153" y="663.5" width="5" height="9"/><rect x="159.5" y="663.5" width="5" height="9"/>
</g>
</g>
<g id="node-instance-2">
<rect x="199" y="619" width="172" height="163" rx="16" class="tbx"/>
<g class="st">
<text x="210" y="634"><tspan class="b">[Format]:</tspan> &lt;MultiChoice QA&gt;</text>
<text x="210" y="651"><tspan class="b">[Task]:</tspan> &lt;Social IQA&gt;</text>
<text x="210" y="666"><tspan class="b">[Domain]:</tspan> &lt;Social Event&gt;</text>
<text x="210" y="681"><tspan class="b">[Question]:</tspan> How would Others</text>
<text x="210" y="693">feel as a result?</text>
<text x="210" y="709"><tspan class="b">[Passage]:</tspan> Cameron decided to</text>
<text x="210" y="721">have a barbecue and gathered her</text>
<text x="210" y="733">friends together.</text>
<text x="210" y="749"><tspan class="b">[Candidates]:</tspan> (A) like staying</text>
<text x="210" y="761">home (B) like attending (C) a good</text>
<text x="210" y="773">friend to have</text>
</g>
<g fill="#2e8a7e">
<rect x="342" y="625.5" width="5" height="9"/><rect x="348.5" y="625.5" width="5" height="9"/><rect x="355" y="625.5" width="5" height="9"/><rect x="361.5" y="625.5" width="5" height="9"/>
<rect x="306" y="642.5" width="5" height="9"/><rect x="312.5" y="642.5" width="5" height="9"/><rect x="319" y="642.5" width="5" height="9"/><rect x="325.5" y="642.5" width="5" height="9"/>
<rect x="328" y="657.5" width="5" height="9"/><rect x="334.5" y="657.5" width="5" height="9"/><rect x="341" y="657.5" width="5" height="9"/><rect x="347.5" y="657.5" width="5" height="9"/>
</g>
</g>
<g id="node-instance-3">
<rect x="378" y="619" width="171" height="163" rx="16" class="obx"/>
<g class="st">
<text x="389" y="633"><tspan class="b">[Format]:</tspan> &lt;Abstractive  QA&gt;</text>
<text x="389" y="651"><tspan class="b">[Task]:</tspan> &lt;NarrativeQA&gt;</text>
<text x="389" y="668"><tspan class="b">[Domain]:</tspan> &lt;Literature&gt;</text>
<text x="389" y="686"><tspan class="b">[Question]:</tspan> How is Oscar related</text>
<text x="389" y="697">to Dana?</text>
<text x="389" y="713"><tspan class="b">[Passage]:</tspan> Dana continues digging</text>
<text x="389" y="725">in her purse while Frank makes</text>
<text x="389" y="738">funny faces at the baby Oscar, a</text>
<text x="389" y="750">very cute nine-month-old boy.</text>
<text x="389" y="762">Frank: That's a good-looking kid</text>
<text x="389" y="774">you got here, Dana.</text>
</g>
<g fill="#f5a020">
<rect x="519" y="624.5" width="5" height="9"/><rect x="525.5" y="624.5" width="5" height="9"/><rect x="532" y="624.5" width="5" height="9"/><rect x="538.5" y="624.5" width="5" height="9"/>
<rect x="492" y="642.5" width="5" height="9"/><rect x="498.5" y="642.5" width="5" height="9"/><rect x="505" y="642.5" width="5" height="9"/><rect x="511.5" y="642.5" width="5" height="9"/>
<rect x="495" y="659.5" width="5" height="9"/><rect x="501.5" y="659.5" width="5" height="9"/><rect x="508" y="659.5" width="5" height="9"/><rect x="514.5" y="659.5" width="5" height="9"/>
</g>
</g>
<g id="node-proqa">
<rect x="116" y="813" width="338" height="33" rx="6" fill="#f7f7f7" stroke="#111" stroke-width="2"/>
<text x="286" y="834" class="c" font-size="12.5">Pro QA</text>
</g>
<g id="node-answers" font-size="10">
<rect x="21" y="874" width="172" height="28" rx="6" class="bbx"/>
<text x="107" y="892" class="c st"><tspan class="b">Answer:</tspan> France</text>
<rect x="201" y="873" width="171" height="29" rx="6" class="tbx"/>
<text x="286" y="891" class="c st"><tspan class="b">Answer:</tspan> like attending</text>
<rect x="380" y="872" width="172" height="28" rx="6" class="obx"/>
<text x="466" y="890" class="c st"><tspan class="b">Answer:</tspan> her son</text>
</g>
<g id="connectors-structured" fill="none" stroke-width="1.2">
<path d="M174,548 L174,557" stroke="#2f6fa0" marker-end="url(#ahb)"/>
<path d="M174,572 Q160,579 140,577 Q127,576 125,582" stroke="#2f6fa0" marker-end="url(#ahb)"/>
<path d="M247,548 L247,557" stroke="#2e8a7e" marker-end="url(#aht)"/>
<path d="M245,572 L245,582" stroke="#2e8a7e" marker-end="url(#aht)"/>
<path d="M386,548 L386,557" stroke="#f39a2a" marker-end="url(#aho)"/>
<path d="M386,572 Q400,584 422,578 Q440,573 446,582" stroke="#f39a2a" marker-end="url(#aho)"/>
<path d="M114,598 L114,613" stroke="#2f6fa0" marker-end="url(#ahb)"/>
<path d="M245,598 L245,613" stroke="#2e8a7e" marker-end="url(#aht)"/>
<path d="M445,598 L445,613" stroke="#f39a2a" marker-end="url(#aho)"/>
<path d="M102,787 Q180,802 277,804" stroke="#2f6fa0" marker-end="url(#ahb)"/>
<path d="M285,787 L285,807" stroke="#2e8a7e" marker-end="url(#aht)"/>
<path d="M466,787 Q380,797 294,804" stroke="#f39a2a" marker-end="url(#aho)"/>
<path d="M280,854 Q200,858 124,870" stroke="#2f6fa0" marker-end="url(#ahb)"/>
<path d="M285,854 L285,871" stroke="#2e8a7e" marker-end="url(#aht)"/>
<path d="M291,854 Q370,858 447,870" stroke="#f39a2a" marker-end="url(#aho)"/>
</g>
</g>

<!-- ============ FIGURE 6: ensembling ============ -->
<g id="fig-ensembling" class="sf">
<rect x="648" y="590" width="548" height="272" fill="#f8f8f8"/>
<text x="715" y="625" font-size="22">Input</text>
<g id="node-input-subject">
<rect x="775" y="596" width="366" height="41" rx="5" fill="#fdf0d8" stroke="#efc78a" stroke-width="1.5"/>
<text x="789" y="624" font-size="23.5">Subject: China; Relation: isCapital</text>
</g>
<g id="node-prompt-set">
<rect x="694" y="657" width="424" height="193" rx="16" fill="#fff" stroke="#222" stroke-width="2"/>
<text x="711" y="702" font-size="23">PR1</text>
<rect x="757" y="672" width="340" height="41" rx="4" fill="#dce8f8" stroke="#93b7e6" stroke-width="1.5"/>
<text x="775" y="702" font-size="24">China’s capital is<tspan x="950" class="sans" font-size="21" fill="#222">[MASK]</tspan><tspan x="1019">.</tspan></text>
<text x="711" y="762" font-size="23">PR2</text>
<rect x="757" y="734" width="340" height="40" rx="4" fill="#dce8f8" stroke="#93b7e6" stroke-width="1.5"/>
<text x="776" y="762" font-size="24"><tspan class="sans" font-size="21" fill="#222">[MASK]</tspan><tspan x="861">is the capital of China.</tspan></text>
<text x="711" y="822" font-size="23">PR3</text>
<rect x="757" y="794" width="340" height="40" rx="4" fill="#dce8f8" stroke="#93b7e6" stroke-width="1.5"/>
<text x="775" y="822" font-size="24">The capital of China is<tspan x="1008" class="sans" font-size="21" fill="#222">[MASK]</tspan><tspan x="1077">.</tspan></text>
</g>
<g id="connectors-ensembling" fill="none" stroke="#111" stroke-width="2">
<path d="M705,618 L672,618 Q657,618 657,633 L657,742 Q657,757 672,757 L693,757" marker-end="url(#ah)"/>
<path d="M1097,692 L1141,692 L1141,813 L1097,813"/>
<path d="M1097,754 L1185,754" marker-end="url(#ah)"/>
</g>
</g>

<!-- ============ FIGURE 7: P-tuning ============ -->
<g id="fig-ptuning" class="sf">
<g id="node-ptuning-a">
<rect x="1225" y="838" width="205" height="13" rx="6" fill="none" stroke="#444" stroke-width="1" stroke-dasharray="3 2"/>
<text x="1325" y="848" class="c" font-size="8">Prompt Encoder (Optional)</text>
<text x="1464" y="842" class="c" font-size="8">Optimization</text>
<g font-size="9.5" class="c">
<text x="1243" y="861" class="c">[CLS]</text><text x="1286" y="861" class="c">Amazing</text><text x="1327" y="861" class="c">movie</text><text x="1357" y="861" class="c">!</text><text x="1452" y="861" class="c">[MASK]</text>
</g>
<rect x="1227" y="868" width="33" height="10" class="emb"/><text x="1243.5" y="876" class="et">e([CLS])</text>
<rect x="1264" y="868" width="42" height="10" class="emb"/><text x="1285" y="876" class="et">e(Amazing)</text>
<rect x="1310" y="868" width="33" height="10" class="emb"/><text x="1326.5" y="876" class="et">e(moive)</text>
<rect x="1348" y="868" width="16" height="10" class="emb"/><text x="1356" y="876" class="et">e(!)</text>
<rect x="1371" y="868" width="19" height="10" class="emo"/><text x="1380" y="877" class="c i" font-size="11" fill="#444">h<tspan font-size="7" dy="1.5">0</tspan></text>
<text x="1398" y="875" class="c" font-size="8">···</text>
<rect x="1407" y="868" width="19" height="10" class="emo"/><text x="1416" y="877" class="c i" font-size="11" fill="#444">h<tspan font-size="7" dy="1.5">i</tspan></text>
<rect x="1433" y="868" width="42" height="10" class="emb"/><text x="1454" y="876" class="et">e([MASK])</text>
<rect x="1219" y="885" width="260" height="40" rx="6" fill="#fff" stroke="#333" stroke-width="1.2"/>
<g class="emb">
<rect x="1227" y="888" width="33" height="8"/><rect x="1264" y="888" width="42" height="8"/><rect x="1310" y="888" width="33" height="8"/><rect x="1348" y="888" width="16" height="8"/><rect x="1433" y="888" width="42" height="8"/>
<rect x="1227" y="899" width="33" height="8"/><rect x="1264" y="899" width="42" height="8"/><rect x="1310" y="899" width="33" height="8"/><rect x="1348" y="899" width="16" height="8"/><rect x="1371" y="899" width="19" height="8"/><rect x="1407" y="899" width="19" height="8"/><rect x="1433" y="899" width="42" height="8"/>
<rect x="1227" y="912" width="33" height="8"/><rect x="1264" y="912" width="42" height="8"/><rect x="1310" y="912" width="33" height="8"/><rect x="1348" y="912" width="16" height="8"/><rect x="1371" y="912" width="19" height="8"/><rect x="1407" y="912" width="19" height="8"/><rect x="1433" y="912" width="42" height="8"/>
</g>
<rect x="1371" y="888" width="19" height="8" class="emo"/><rect x="1407" y="888" width="19" height="8" class="emo"/>
<g font-size="7" fill="#555">
<text x="1398" y="894" class="c">···</text><text x="1398" y="905" class="c">···</text><text x="1398" y="918" class="c">···</text>
<text x="1243" y="918" class="c">···</text><text x="1285" y="918" class="c">···</text><text x="1326" y="918" class="c">···</text><text x="1356" y="918" class="c">···</text><text x="1380" y="918" class="c">···</text><text x="1416" y="918" class="c">···</text><text x="1454" y="918" class="c">···</text>
</g>
<text x="1345" y="907" class="c" font-size="12.5" fill="#8fa3b8" fill-opacity="0.8">Transformers</text>
<text x="1439" y="939" class="c" font-size="8.5">Verbalizer (with LM head)</text>
<text x="1227" y="954" font-size="10">(a) Lester et al. &amp; P-tuning <tspan font-size="8">(Frozen, 10-billion-scale, simple tasks)</tspan></text>
</g>
<g id="node-ptuning-b">
<rect x="1566" y="838" width="149" height="13" rx="6" fill="none" stroke="#444" stroke-width="1" stroke-dasharray="3 2"/>
<text x="1641" y="848" class="c" font-size="8">Reparameterization (Optional)</text>
<text x="1752" y="842" class="c" font-size="8">Optimization</text>
<text x="1654" y="861" class="c" font-size="9.5">[CLS]</text><text x="1698" y="861" class="c" font-size="9.5">Amazing</text><text x="1739" y="861" class="c" font-size="9.5">movie</text><text x="1769" y="861" class="c" font-size="9.5">!</text>
<rect x="1573" y="864" width="64" height="59" fill="none" stroke="#444" stroke-width="1" stroke-dasharray="3 2"/>
<rect x="1575" y="868" width="18" height="10" class="emo"/><text x="1604" y="875" class="c" font-size="8">···</text><rect x="1616" y="868" width="18" height="10" class="emo"/>
<rect x="1641" y="868" width="32" height="10" class="emb"/><text x="1657" y="876" class="et">e([CLS])</text>
<rect x="1677" y="868" width="42" height="10" class="emb"/><text x="1698" y="876" class="et">e(Amazing)</text>
<rect x="1723" y="868" width="32" height="10" class="emb"/><text x="1739" y="876" class="et">e(moive)</text>
<rect x="1761" y="868" width="17" height="10" class="emb"/><text x="1769.5" y="876" class="et">e(!)</text>
<rect x="1568" y="885" width="216" height="40" rx="6" fill="#fff" stroke="#333" stroke-width="1.2"/>
<g class="emo">
<rect x="1575" y="888" width="18" height="8"/><rect x="1616" y="888" width="18" height="8"/>
<rect x="1575" y="899" width="18" height="8"/><rect x="1616" y="899" width="18" height="8"/>
<rect x="1575" y="912" width="18" height="8"/><rect x="1616" y="912" width="18" height="8"/>
</g>
<g class="emb">
<rect x="1641" y="888" width="32" height="8"/><rect x="1677" y="888" width="42" height="8"/><rect x="1723" y="888" width="32" height="8"/><rect x="1761" y="888" width="17" height="8"/>
<rect x="1641" y="899" width="32" height="8"/><rect x="1677" y="899" width="42" height="8"/><rect x="1723" y="899" width="32" height="8"/><rect x="1761" y="899" width="17" height="8"/>
<rect x="1641" y="912" width="32" height="8"/><rect x="1677" y="912" width="42" height="8"/><rect x="1723" y="912" width="32" height="8"/><rect x="1761" y="912" width="17" height="8"/>
</g>
<g font-size="7" fill="#555">
<text x="1604" y="894" class="c">···</text><text x="1604" y="905" class="c">···</text><text x="1604" y="918" class="c">···</text>
<text x="1584" y="918" class="c">···</text><text x="1625" y="918" class="c">···</text><text x="1657" y="918" class="c">···</text><text x="1698" y="918" class="c">···</text><text x="1739" y="918" class="c">···</text><text x="1769.5" y="918" class="c">···</text>
</g>
<text x="1676" y="907" class="c" font-size="12.5" fill="#8fa3b8" fill-opacity="0.8">Transformers</text>
<text x="1556" y="892" class="r" font-size="8">Layer1 Prompts</text>
<text x="1556" y="907" class="r" font-size="8">Layer2 Prompts</text>
<text x="1530" y="913" class="c" font-size="7">···</text>
<text x="1556" y="922" class="r" font-size="8">LayerN Prompts</text>
<text x="1654" y="939" class="c" font-size="8.5">Class Label (with linear head)</text>
<text x="1570" y="954" font-size="10">(b) P-tuning v2 <tspan font-size="8">(Frozen, most scales, most tasks)</tspan></text>
</g>
<g id="connectors-ptuning" fill="none" stroke="#333" stroke-width="0.8">
<path d="M1243,863 V867 M1285,863 V867 M1327,863 V867 M1357,863 V867 M1452,863 V867" marker-end="url(#ahs)"/>
<path d="M1243,878 V884 M1285,878 V884 M1326,878 V884 M1356,878 V884 M1380,878 V884 M1416,878 V884 M1454,878 V884" marker-end="url(#ahs)"/>
<path d="M1380,851 V867 M1416,851 V867" stroke-dasharray="2 2" marker-end="url(#ahs)"/>
<path d="M1471,938 L1471,947 L1489,947 L1489,848 L1432,848" stroke-dasharray="3 2" marker-end="url(#ahs)"/>
<path d="M1453,925 V931" marker-end="url(#ahs)"/>
<path d="M1654,863 V867 M1698,863 V867 M1739,863 V867 M1769,863 V867" marker-end="url(#ahs)"/>
<path d="M1584,878 V884 M1625,878 V884 M1657,878 V884 M1698,878 V884 M1739,878 V884 M1769.5,878 V884" marker-end="url(#ahs)"/>
<path d="M1606,851 V863" stroke-dasharray="2 2" marker-end="url(#ahs)"/>
<path d="M1658,938 L1658,947 L1784,947 L1784,848 L1717,848" stroke-dasharray="3 2" marker-end="url(#ahs)"/>
<path d="M1653,925 V931" marker-end="url(#ahs)"/>
<g stroke="#f06868" stroke-width="1.6">
<path d="M1490,880 L1418,880" stroke-dasharray="1.5 2"/>
<path d="M1480,884 L1394,887" stroke-dasharray="1.5 2" marker-end="url(#ahr)"/>
<path d="M1558,890 L1574,891" marker-end="url(#ahr)"/>
<path d="M1558,904 L1574,903" marker-end="url(#ahr)"/>
<path d="M1558,919 L1574,916" marker-end="url(#ahr)"/>
</g>
</g>
</g>
</svg>
